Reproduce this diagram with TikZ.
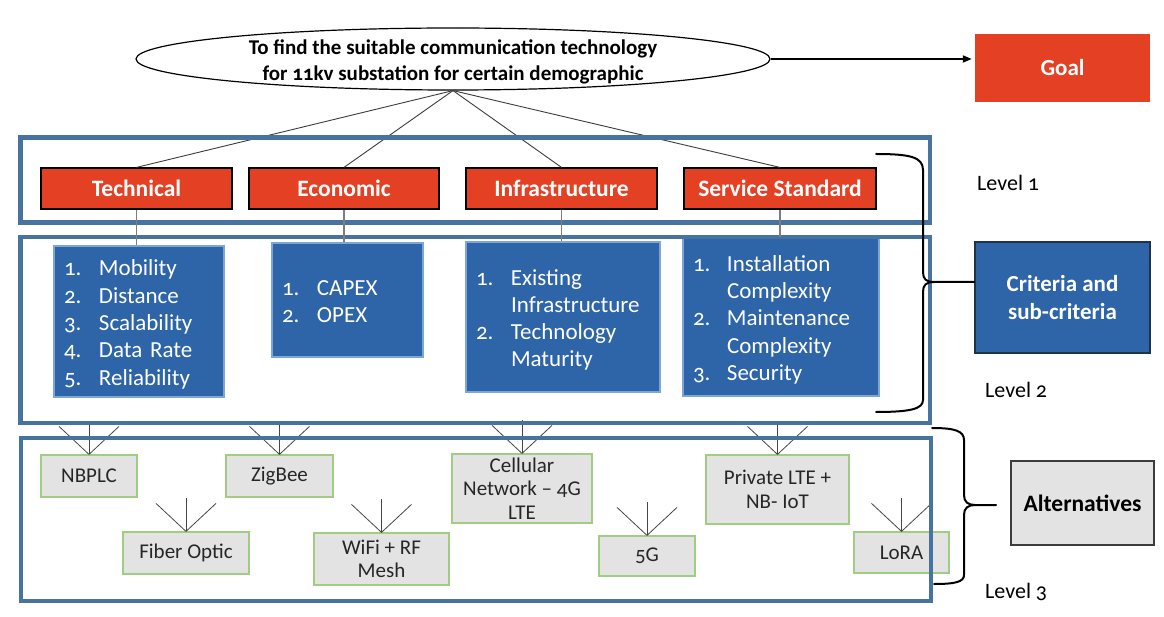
\documentclass[tikz,border=0pt]{standalone}
\usepackage{fontspec}
\setmainfont{Carlito}[Numbers=OldStyle]
\usetikzlibrary{arrows.meta,shapes.geometric}
\definecolor{critred}{RGB}{228,65,36}
\definecolor{subblue}{RGB}{46,100,168}
\definecolor{subedge}{RGB}{125,165,215}
\definecolor{critedge}{RGB}{35,50,75}
\definecolor{frameblue}{RGB}{71,115,160}
\definecolor{altgray}{RGB}{227,227,227}
\definecolor{altgreen}{RGB}{160,205,130}
\definecolor{altedge}{RGB}{60,60,60}
\definecolor{linkgray}{RGB}{60,60,60}
\definecolor{dropgray}{RGB}{125,125,125}
\definecolor{fangray}{RGB}{70,70,70}
\begin{document}
\begin{tikzpicture}[x=1pt,y=-1pt,
  titleell/.style={ellipse, draw=black, line width=1.2pt, fill=white, inner sep=0,
    minimum width=634pt, minimum height=62pt},
  titletext/.style={inner sep=0, align=center,
    font=\fontsize{21}{26}\selectfont\bfseries},
  redbox/.style={draw=black, line width=1.2pt, fill=critred, text=white,
    font=\fontsize{23.5}{27}\selectfont\bfseries, inner sep=0, minimum height=41pt},
  goalbox/.style={fill=critred, text=white, inner sep=0,
    font=\fontsize{23}{27}\selectfont\bfseries},
  subbox/.style={draw=subedge, line width=1.5pt, fill=subblue, inner sep=0},
  subtext/.style={text=white, inner sep=0, align=left,
    font=\fontsize{23}{27.3}\selectfont},
  critbox/.style={draw=critedge, line width=1.5pt, fill=subblue, text=white,
    inner sep=0, align=center, font=\fontsize{23}{28}\selectfont\bfseries},
  altbox/.style={draw=altgreen, line width=1.2pt, fill=altgray, text={black!85},
    inner sep=0, align=center, font=\fontsize{21}{23.5}\selectfont},
  altsbox/.style={draw=altedge, line width=1.5pt, fill=altgray, text=black,
    inner sep=0, font=\fontsize{23.5}{27}\selectfont\bfseries},
  levellabel/.style={anchor=west, inner sep=0, font=\fontsize{22}{26}\selectfont},
  frame/.style={draw=frameblue, line width=4.5pt},
  link/.style={draw=linkgray, line width=0.9pt},
  drop/.style={draw=dropgray, line width=1.2pt},
  fan/.style={draw=fangray, line width=0.8pt},
  bracestyle/.style={draw=black, line width=2pt, line cap=round}
]
\useasboundingbox (0,0) rectangle (1164,617);

% Goal
\node[titleell] (title) at (453,59) {};
\node[titletext] (titlelabel) at ([yshift=-2.5pt]title.center) {To find the suitable communication technology\\for 11kv substation for certain demographic};
\node[goalbox, minimum width=175pt, minimum height=68pt] (goal) at (1062.5,68) {Goal};
\draw[line width=1.8pt, -{Triangle[length=9pt,width=7pt]}, shorten >=3pt] (title.east) -- (title.east -| goal.west);

% Level 1 criteria
\node[redbox, minimum width=191pt] (tech) at (136.5,188.5) {Technical};
\node[redbox, minimum width=190pt] (econ) at (344,188.5) {Economic};
\node[redbox, minimum width=191pt] (infra) at (561.5,188.5) {Infrastructure};
\node[redbox, minimum width=192pt] (serv) at (780,188.5) {Service Standard};

\foreach \c in {tech,econ,infra,serv} \draw[link] (title.south) -- (\c.north);

% Level 2 sub-criteria
\node[subbox, minimum width=170pt, minimum height=151pt] (techsub) at (139,321.5) {};
\node[subtext, text width=150pt] (techlist) at ([yshift=-3.5pt]techsub.center) {%
  \begin{tabular}{@{}p{35pt}@{}l@{}}
  1. & Mobility\\ 2. & Distance\\ 3. & Scalability\\ 4. & Data Rate\\ 5. & Reliability
  \end{tabular}};
\node[subbox, minimum width=151pt, minimum height=114pt] (econsub) at (347.5,300) {};
\node[subtext, text width=131pt] (econlist) at ([yshift=-3.5pt]econsub.center) {%
  \begin{tabular}{@{}p{35pt}@{}l@{}}
  1. & CAPEX\\ 2. & OPEX
  \end{tabular}};
\node[subbox, minimum width=194pt, minimum height=150pt] (infrasub) at (563,317) {};
\node[subtext, text width=174pt] (infralist) at ([yshift=-3.5pt]infrasub.center) {%
  \begin{tabular}{@{}p{35pt}@{}l@{}}
  1. & Existing\\ & Infrastructure\\ 2. & Technology\\ & Maturity
  \end{tabular}};
\node[subbox, minimum width=196pt, minimum height=158pt] (servsub) at (781,317) {};
\node[subtext, text width=176pt] (servlist) at ([yshift=-3.5pt]servsub.center) {%
  \begin{tabular}{@{}p{34pt}@{}l@{}}
  1. & Installation\\ & Complexity\\ 2. & Maintenance\\ & Complexity\\ 3. & Security
  \end{tabular}};

% Level 3 alternatives
\node[altbox, minimum width=96pt, minimum height=42pt] (nbplc) at (89,476) {NBPLC};
\node[altbox, minimum width=107pt, minimum height=42pt] (zigbee) at (279.5,476) {ZigBee};
\node[altbox, minimum width=140pt, minimum height=69pt] (cell) at (522,488.5) {Cellular\\Network -- 4G\\LTE};
\node[altbox, minimum width=143pt, minimum height=69pt] (priv) at (777.5,489.5) {Private LTE +\\NB- IoT};
\node[altbox, minimum width=126pt, minimum height=42pt] (fiber) at (186,553) {Fiber Optic};
\node[altbox, minimum width=135pt, minimum height=52pt] (wifi) at (381.5,559) {WiFi + RF\\Mesh};
\node[altbox, minimum width=96pt, minimum height=40pt] (fiveg) at (647,556) {5G};
\node[altbox, minimum width=95pt, minimum height=41pt] (lora) at (901.5,552.5) {LoRA};

\foreach \n in {nbplc,zigbee,cell,priv,fiber,wifi,fiveg,lora} {
  \draw[fan] ([yshift=33pt]\n.north) -- (\n.north);
  \draw[fan] ([xshift=-30pt,yshift=28pt]\n.north) -- (\n.north) -- ([xshift=30pt,yshift=28pt]\n.north);
}

% Level frames
\draw[frame] (20.5,137.5) rectangle (930,222.5);
\draw[frame] (20.5,237) rectangle (930,423);
\draw[frame] (21,438) rectangle (931,601);

% drops from criteria to sub-criteria
\draw[drop] (tech.south) -- (tech.south |- techsub.north);
\draw[drop] (econ.south) -- (econ.south |- econsub.north);
\draw[drop] (infra.south) -- (infra.south |- infrasub.north);
\draw[drop] (serv.south) -- (serv.south |- servsub.north);

% Right side legend
\node[critbox, minimum width=175pt, minimum height=111pt] (crit) at (1062.5,297.5) {Criteria and\\sub-criteria};
\node[altsbox, minimum width=143pt, minimum height=84pt] (alts) at (1082.5,503) {Alternatives};
\node[levellabel] (lev1) at (977,183) {Level 1};
\node[levellabel] (lev2) at (985,390) {Level 2};
\node[levellabel] (lev3) at (985,592) {Level 3};

% Braces
\coordinate (tip1) at (crit.west |- 0,282);
\coordinate (tip2) at (996,505);
\draw[bracestyle] (876,154) .. controls (910,154) and (923,157) .. (923,170) -- (923,272)
  .. controls (923,279) and (926,282) .. (934,282) -- (tip1);
\draw[bracestyle] (934,282) .. controls (926,282) and (923,285) .. (923,292) -- (923,400)
  .. controls (923,409) and (910,412) .. (876,412);
\draw[bracestyle] (932,428) .. controls (955,428) and (964,431) .. (964,440) -- (964,495)
  .. controls (964,502) and (968,505) .. (975,505) -- (tip2);
\draw[bracestyle] (975,505) .. controls (968,505) and (964,508) .. (964,515) -- (964,575)
  .. controls (964,582) and (955,584) .. (934,584);
\end{tikzpicture}
\end{document}
